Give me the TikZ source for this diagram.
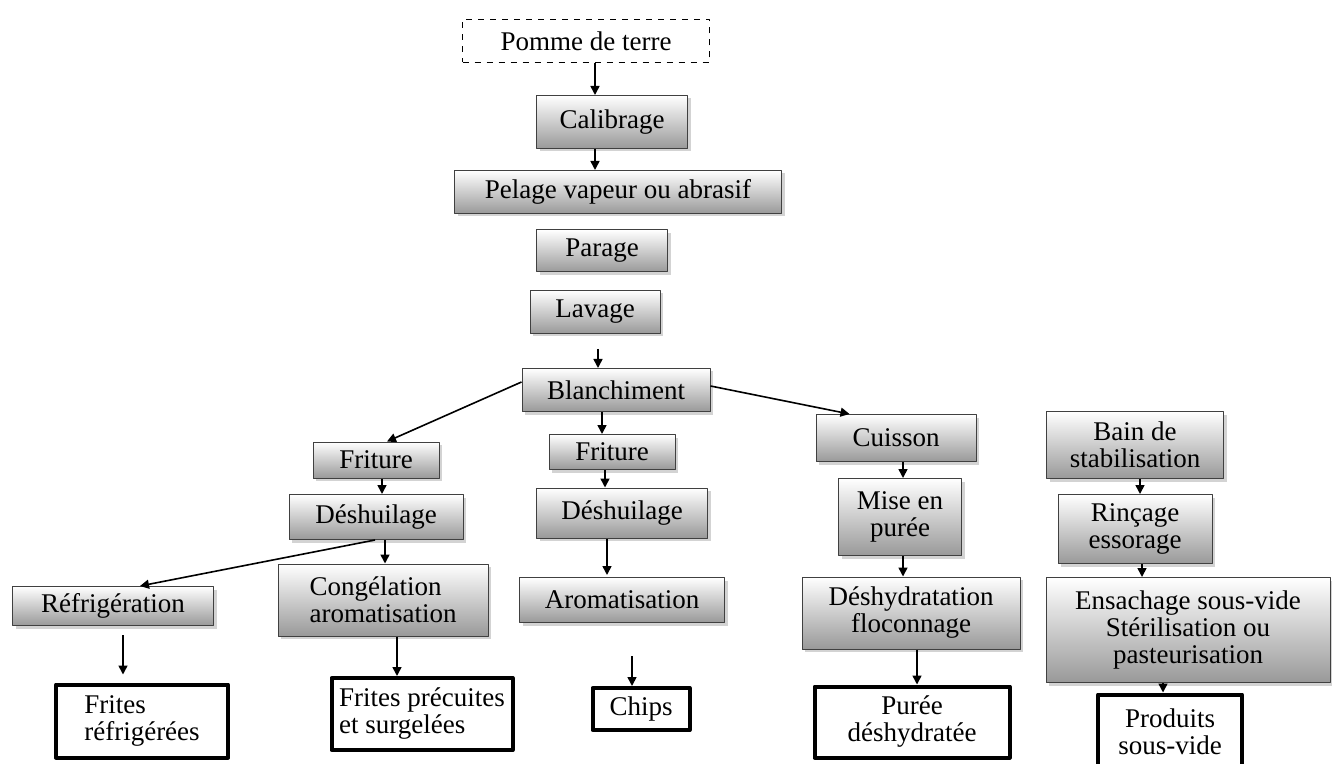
\documentclass[tikz,border=0pt]{standalone}
\usepackage{fontspec}
\setmainfont{Liberation Serif}
\usetikzlibrary{arrows.meta,shadows}
\begin{document}
\begin{tikzpicture}[x=0.5pt, y=-0.5pt, font=\fontsize{13.5}{13.5}\selectfont, line join=round, >={Triangle[length=4.5pt,width=4.5pt]},
    etape/.style={draw=black!75, line width=0.5pt, top color=white, bottom color=black!40, align=center, inner sep=1pt,
        drop shadow={shadow xshift=1.5pt, shadow yshift=-1.5pt, opacity=0.35}},
    produit/.style={draw=black, line width=2pt, fill=white, align=center, inner sep=1pt},
    fleche/.style={->, line width=0.8pt}]
            \useasboundingbox (0,0) rectangle (1332,764);
            \node[draw, dashed, fill=white, minimum width=123.5pt, minimum height=21.5pt] (pomme) at (586,41) {Pomme de terre};
            \node[etape, minimum width=75.5pt, minimum height=26.5pt] (calib) at (612,122) {Calibrage};
            \node[etape, minimum width=163.5pt, minimum height=21.5pt] (pelage) at (618,192) {Pelage vapeur ou abrasif};
            \node[etape, minimum width=65.5pt, minimum height=21pt] (parage) at (602,251) {Parage};
            \node[etape, minimum width=65pt, minimum height=21.5pt] (lavage) at (595,312) {Lavage};
            \node[etape, minimum width=94pt, minimum height=21.5pt] (blanch) at (616,390) {Blanchiment};
            % frites
            \node[etape, minimum width=63pt, minimum height=18pt] (frit1) at (376,460) {Friture};
            \node[etape, minimum width=87pt, minimum height=22.5pt] (desh1) at (376,517) {Déshuilage};
            \node[etape, minimum width=105pt, minimum height=36pt, align=left] (cong) at (383,600) {Congélation\\aromatisation};
            \node[etape, minimum width=100.5pt, minimum height=19.5pt] (refrig) at (113,606) {Réfrigération};
            \node[produit, minimum width=86pt, minimum height=36.5pt, align=left] (fritesR) at (142,721) {Frites\\réfrigérées};
            \node[produit, minimum width=90.5pt, minimum height=36pt, align=left] (fritesP) at (422,714) {Frites précuites\\et surgelées};
            % chips
            \node[etape, minimum width=63pt, minimum height=17.5pt] (frit2) at (612,452) {Friture};
            \node[etape, minimum width=85.5pt, minimum height=25pt] (desh2) at (622,513) {Déshuilage};
            \node[etape, minimum width=102.5pt, minimum height=22.5pt] (arom) at (622,600) {Aromatisation};
            \node[produit, minimum width=48.5pt, minimum height=21pt] (chips) at (641,709) {Chips};
            % puree
            \node[etape, minimum width=80pt, minimum height=23.5pt] (cuiss) at (896,438) {Cuisson};
            \node[etape, minimum width=61.5pt, minimum height=38.5pt] (mise) at (900,517) {Mise en\\purée};
            \node[etape, minimum width=109pt, minimum height=36pt] (deshy) at (911,613) {Déshydratation\\floconnage};
            \node[produit, minimum width=97.5pt, minimum height=35.5pt] (puree) at (912,722) {Purée\\déshydratée};
            % sous-vide
            \node[etape, minimum width=88.5pt, minimum height=33.5pt] (bain) at (1135,445) {Bain de\\stabilisation};
            \node[etape, minimum width=77pt, minimum height=34.5pt] (rinc) at (1135,529) {Rinçage\\essorage};
            \node[etape, minimum width=142pt, minimum height=52.5pt] (ensach) at (1188,630) {Ensachage sous-vide\\Stérilisation ou\\pasteurisation};
            \node[produit, minimum width=72pt, minimum height=37.5pt] (prod) at (1170,732) {Produits\\sous-vide};
            % fleches
            \draw[fleche] ([xshift=4.5pt]pomme.south) -- ([xshift=-8.5pt]calib.north);
            \draw[fleche] ([xshift=-8.5pt]calib.south) -- ([xshift=-11.5pt]pelage.north);
            \draw[fleche] ([xshift=1.5pt,yshift=-7.5pt]lavage.south) -- ([xshift=-9pt]blanch.north);
            \draw[fleche] ([xshift=-7pt]blanch.south) -- ([xshift=-5pt]frit2.north);
            \draw[fleche] ([yshift=4pt]blanch.west) -- ([xshift=5.5pt]frit1.north);
            \draw[fleche] ([yshift=2pt]blanch.east) -- ([xshift=17pt]cuiss.north west);
            \draw[fleche] ([xshift=3pt]frit1.south) -- ([xshift=3pt]desh1.north);
            \draw[fleche] ([xshift=4.5pt]desh1.south) -- ([xshift=1pt]cong.north);
            \draw[fleche] ([xshift=-0.5pt]desh1.south) -- ([xshift=13.5pt]refrig.north);
            \draw[fleche] ([xshift=5pt,yshift=-4.5pt]refrig.south) -- ([xshift=-9.5pt,yshift=4pt]fritesR.north);
            \draw[fleche] ([xshift=7pt]cong.south) -- ([xshift=-12.5pt]fritesP.north);
            \draw[fleche] ([xshift=-3.5pt]frit2.south) -- ([xshift=-8.5pt]desh2.north);
            \draw[fleche] ([xshift=-7.5pt]desh2.south) -- ([xshift=-7.5pt,yshift=1pt]arom.north);
            \draw[fleche] ([xshift=5pt,yshift=-16.5pt]arom.south) -- ([xshift=-4.5pt]chips.north);
            \draw[fleche] ([xshift=3.5pt]cuiss.south) -- ([xshift=1.5pt]mise.north);
            \draw[fleche] ([xshift=1.5pt]mise.south) -- ([xshift=-4pt]deshy.north);
            \draw[fleche] ([xshift=3pt]deshy.south) -- ([xshift=2.5pt]puree.north);
            \draw[fleche] ([xshift=2.5pt]bain.south) -- ([xshift=2.5pt]rinc.north);
            \draw[fleche] ([xshift=3.5pt]rinc.south) -- ([xshift=-23pt]ensach.north);
            \draw[fleche] ([xshift=-12.5pt]ensach.south) -- ([xshift=-3.5pt]prod.north);
        \end{tikzpicture}
\end{document}
